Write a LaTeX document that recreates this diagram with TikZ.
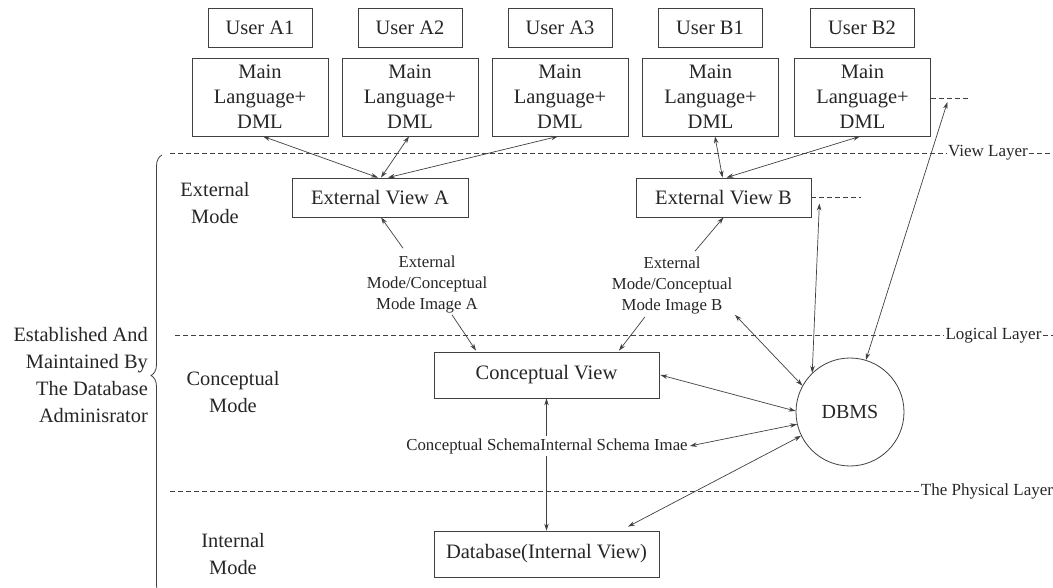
\documentclass[tikz,border=0pt]{standalone}
\usepackage{fontspec}
\setmainfont{Liberation Serif}
\usetikzlibrary{arrows.meta,decorations.pathreplacing}
\begin{document}
\begin{tikzpicture}[x=1pt,y=-1pt,
  ln/.style={draw=black!75, line width=0.8pt},
  box/.style={ln, inner sep=0pt, align=center, text=black!85, font=\fontsize{20.5}{25}\selectfont},
  userbox/.style={box, minimum width=104pt, minimum height=39pt},
  mainbox/.style={box, minimum width=136pt, minimum height=78pt},
  viewbox/.style={box, minimum width=176pt, minimum height=39pt},
  bigbox/.style={box, minimum width=225pt, minimum height=46pt},
  tip/.tip={Stealth[length=7pt,width=4.5pt]},
  arr/.style={ln, line width=0.7pt, -tip},
  darr/.style={ln, line width=0.7pt, tip-tip},
  layer/.style={ln, line width=0.7pt, dash pattern=on 5pt off 3pt},
  lbl/.style={align=center, inner sep=1pt, text=black!85, font=\fontsize{16.8}{21}\selectfont},
  modelbl/.style={align=center, inner sep=1pt, text=black!85, font=\fontsize{20.4}{27}\selectfont},
  layertext/.style={inner sep=1pt, text=black!85, font=\fontsize{17}{20}\selectfont}
]
\useasboundingbox (0,0) rectangle (1053,588);

% users
\node[userbox] (uA1) at (260,27.5) {User A1};
\node[userbox] (uA2) at (410,27.5) {User A2};
\node[userbox] (uA3) at (560,27.5) {User A3};
\node[userbox] (uB1) at (710,27.5) {User B1};
\node[userbox] (uB2) at (862,27.5) {User B2};

% main language boxes
\node[mainbox] (mA1) at (260,97) {Main\\Language+\\DML};
\node[mainbox] (mA2) at (410,97) {Main\\Language+\\DML};
\node[mainbox] (mA3) at (560,97) {Main\\Language+\\DML};
\node[mainbox] (mB1) at (710.5,97) {Main\\Language+\\DML};
\node[mainbox] (mB2) at (862.5,97) {Main\\Language+\\DML};

% views
\node[viewbox] (eva) at (380,197.5) {External View A};
\node[viewbox, minimum width=175pt] (evb) at (723.5,197.5) {External View B};
\node[bigbox] (cv) at (546.5,375) {Conceptual View};
\node[bigbox] (db) at (546.5,554) {Database(Internal View)};
\node[ln, circle, minimum size=108pt, inner sep=0pt, text=black!85, font=\fontsize{20}{24}\selectfont] (dbms) at (850,412) {DBMS};

% mapping labels
\node[lbl] (lblA) at (427,284) {External\\Mode/Conceptual\\Mode Image A};
\node[lbl] (lblB) at (672,285) {External\\Mode/Conceptual\\Mode Image B};

% mode labels
\node[modelbl] (mExt) at (215,203) {External\\Mode};
\node[modelbl] (mCon) at (233,392) {Conceptual\\Mode};
\node[modelbl] (mInt) at (233,554) {Internal\\Mode};
\node[modelbl, anchor=east, align=right] (dba) at (149,375) {Established And\\Maintained By\\The Database\\Adminisrator};

% layer lines
\coordinate (vL) at (170,153);
\coordinate (vR) at (1053,153);
\coordinate (lL) at (175,335);
\coordinate (lR) at (1053,335);
\coordinate (pL) at (170,491);
\node[layertext] (vlt) at (988,153) {View Layer};
\node[layertext] (llt) at (993.5,335) {Logical Layer};
\node[layertext] (plt) at (987,491) {The Physical Layer};
\draw[layer] (vL) -- (vlt.west);
\draw[layer] (vlt.east) -- (vR);
\draw[layer] (lL) -- (llt.west);
\draw[layer] (llt.east) -- (lR);
\draw[layer] (pL) -- (plt.west);

% short dashes
\coordinate (dB2) at ([shift={(39,1)}]mB2.east);
\coordinate (dEvb) at ([shift={(50,0)}]evb.east);
\draw[layer] ([shift={(0,1)}]mB2.east) -- (dB2);
\draw[layer] (evb.east) -- (dEvb);

% brace
\draw[ln, decorate, decoration={brace, amplitude=11pt}] (162,596) -- (162,155);

% arrows main <-> external views
\draw[darr] ([shift={(3,0)}]mA1.south) -- ([shift={(-2,0)}]eva.north);
\draw[darr] ([shift={(-1,0)}]mA2.south) -- ([shift={(1,0)}]eva.north);
\draw[darr] ([shift={(-2,0)}]mA3.south) -- ([shift={(8,0)}]eva.north);
\draw[darr] ([shift={(4.5,0)}]mB1.south) -- ([shift={(-1,0)}]evb.north);
\draw[darr] ([shift={(-2.5,0)}]mB2.south) -- ([shift={(3,0)}]evb.north);

% mapping arrows
\draw[arr] ([shift={(-24,-6)}]lblA.north) -- ([shift={(1,0)}]eva.south);
\draw[arr] ([shift={(25,1)}]lblA.south) -- ([shift={(-70.5,-1)}]cv.north);
\draw[arr] ([shift={(23,-4)}]lblB.north) -- ([shift={(0,0)}]evb.south);
\draw[arr] ([shift={(-27,2)}]lblB.south) -- ([shift={(72.5,-1)}]cv.north);

% DBMS arrows
\draw[darr] ([shift={(63,0)}]lblB.south) -- (dbms.151.6);
\draw[darr] ([shift={(8,6)}]evb.east) -- (dbms.134.3);
\draw[darr] ([shift={(16.5,5)}]mB2.east) -- (dbms.73.2);
\draw[darr] ([shift={(1,0)}]cv.east) -- (dbms.179);
\draw[darr] ([shift={(81.5,-4)}]db.north) -- (dbms.206.6);

% conceptual <-> internal
\draw[darr] (cv.south) -- (db.north);
\node[lbl, fill=white, inner sep=2pt] (sch) at (547,446) {Conceptual SchemaInternal Schema Imae};
\draw[darr] (sch.east) -- (dbms.193.3);
\end{tikzpicture}
\end{document}
